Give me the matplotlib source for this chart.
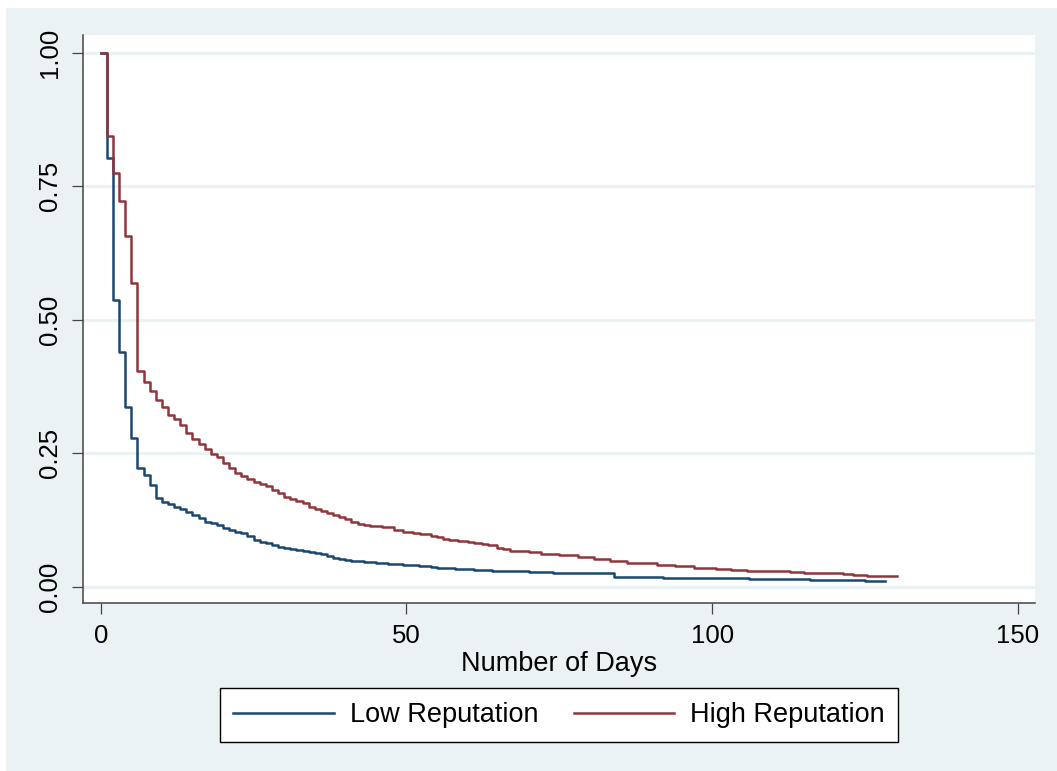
import matplotlib
matplotlib.use('Agg')
import matplotlib.pyplot as plt
from matplotlib.patches import Rectangle

plt.rcParams['font.family'] = ['Liberation Sans', 'DejaVu Sans']

# Kaplan-Meier step points (time the step starts, survival from there on)
low_t = [0, 1, 2, 3, 4, 5, 6, 7, 8, 9, 10, 11, 12, 13, 14, 15, 16, 17, 18, 19,
         20, 21, 22, 23, 24, 25, 26, 27, 28, 29, 30, 31, 32, 33, 34, 35, 36, 37,
         38, 39, 40, 41, 42, 43, 44, 45, 47, 49.5, 52, 54, 55, 58, 61, 64, 67,
         70, 74, 80, 84, 89, 92, 98, 106, 116, 125, 128.3]
low_s = [1.0, 0.802, 0.537, 0.440, 0.336, 0.279, 0.222, 0.209, 0.190, 0.167,
         0.159, 0.154, 0.150, 0.1455, 0.139, 0.134, 0.128, 0.122, 0.119, 0.1155,
         0.109, 0.106, 0.103, 0.100, 0.095, 0.088, 0.084, 0.081, 0.078, 0.075,
         0.0725, 0.071, 0.069, 0.067, 0.0655, 0.064, 0.0605, 0.0575, 0.054,
         0.052, 0.0505, 0.049, 0.048, 0.047, 0.0455, 0.044, 0.042, 0.041, 0.039,
         0.037, 0.035, 0.033, 0.032, 0.030, 0.029, 0.028, 0.026, 0.025, 0.019,
         0.018, 0.017, 0.016, 0.0145, 0.0125, 0.010, 0.010]

high_t = [0, 1, 2, 3, 4, 5, 6, 7, 8, 9, 10, 11, 12, 13, 14, 15, 16, 17, 18, 19,
          20, 21, 22, 23, 24, 25, 26, 27, 28, 29, 30, 31, 32, 33, 34, 35, 36, 37,
          38, 39, 40, 41, 42, 43, 44, 46, 48, 49.5, 51, 52.2, 54, 55, 56, 57,
          58.5, 60, 61, 62.3, 63.4, 64.8, 65.8, 67, 68, 70, 72, 75, 78, 80.6,
          83.3, 86, 88.2, 91, 94, 97, 100.7, 103, 105.7, 108.4, 112.7, 115,
          121.4, 123, 125.3, 130.2]
high_s = [1.0, 0.843, 0.774, 0.723, 0.657, 0.568, 0.404, 0.384, 0.367, 0.350,
          0.336, 0.3215, 0.3135, 0.303, 0.288, 0.276, 0.267, 0.258, 0.2485,
          0.242, 0.231, 0.222, 0.2135, 0.208, 0.2015, 0.1965, 0.192, 0.1885,
          0.182, 0.175, 0.1675, 0.1635, 0.1605, 0.157, 0.150, 0.1455, 0.142,
          0.1385, 0.134, 0.1305, 0.127, 0.122, 0.118, 0.116, 0.114, 0.111,
          0.106, 0.1025, 0.100, 0.098, 0.095, 0.0925, 0.090, 0.0875, 0.0856,
          0.0837, 0.0817, 0.0805, 0.078, 0.073, 0.0705, 0.0674, 0.0662, 0.065,
          0.062, 0.0594, 0.055, 0.0513, 0.0481, 0.045, 0.0438, 0.0413, 0.0381,
          0.0356, 0.033, 0.031, 0.0294, 0.0287, 0.0275, 0.0256, 0.0237, 0.0218,
          0.0206, 0.0206]

x_ticks = [0, 50, 100, 150]
y_ticks = [0.0, 0.25, 0.5, 0.75, 1.0]
y_labels = ['0.00', '0.25', '0.50', '0.75', '1.00']

navy = '#1A476F'
maroon = '#90353B'
region = '#EAF2F3'

fig = plt.figure(figsize=(10.57, 7.71), dpi=100)
fig.patch.set_facecolor('white')
fig.patches.append(Rectangle((6 / 1057, 0), 1, 763 / 771, transform=fig.transFigure,
                             facecolor=region, edgecolor='none', zorder=-10))

ax = fig.add_axes([83 / 1057, 168 / 771, 952 / 1057, 568 / 771])
ax.set_facecolor('white')

ax.step(low_t, low_s, where='post', color=navy, lw=1.8, label='Low Reputation', zorder=3)
ax.step(high_t, high_s, where='post', color=maroon, lw=1.8, label='High Reputation', zorder=3)

ax.set_xlim(-2.9, 152.8)
ax.set_ylim(-0.0305, 1.033)
ax.set_xticks(x_ticks)
ax.set_yticks(y_ticks)
ax.set_yticklabels(y_labels, rotation=90, va='center')
ax.yaxis.grid(True, color=region, lw=2.2)
ax.set_axisbelow(True)

for s in ['top', 'right']:
    ax.spines[s].set_visible(False)
for s in ['left', 'bottom']:
    ax.spines[s].set_color('#444444')
    ax.spines[s].set_linewidth(1.1)

ax.tick_params(axis='both', length=8, width=0.9, color='#444444', labelsize=18.5)
ax.tick_params(axis='y', pad=7)
ax.tick_params(axis='x', pad=7)
ax.set_xlabel('Number of Days', fontsize=19.5, labelpad=2)

leg = fig.legend(loc='center', bbox_to_anchor=(559 / 1057, 1 - 715 / 771), ncol=2,
                 fontsize=19.5, frameon=True, fancybox=False, handlelength=3.7,
                 handletextpad=0.6, columnspacing=1.3, borderpad=0.5)
leg.get_frame().set_edgecolor('black')
leg.get_frame().set_linewidth(1.0)
leg.get_frame().set_facecolor('white')
leg.get_frame().set_alpha(1)

fig.savefig('out.png', dpi=100, facecolor=fig.get_facecolor())
